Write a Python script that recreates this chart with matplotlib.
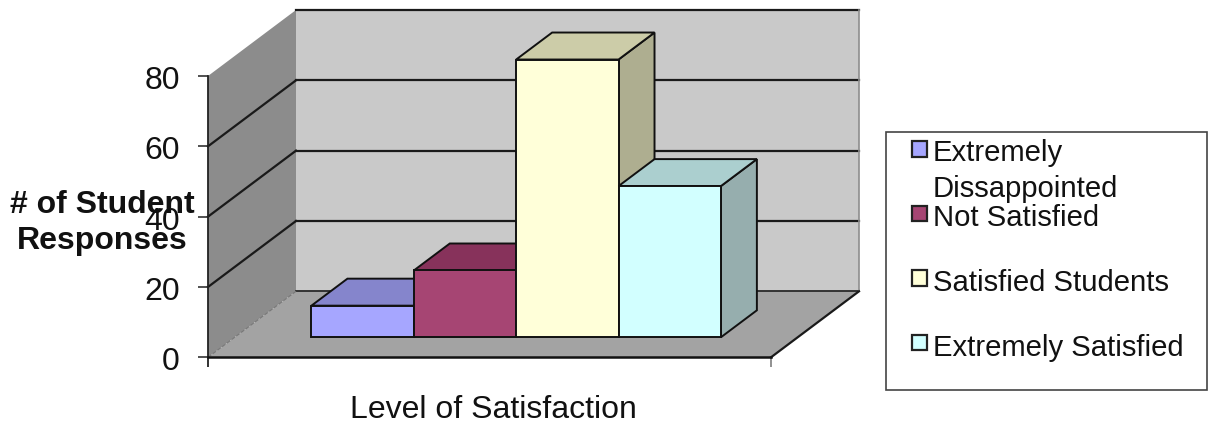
# -*- coding: utf-8 -*-
# old excel style 3D column chart, drawn as an oblique projection on a normal axes
import matplotlib
matplotlib.use('Agg')
import matplotlib.pyplot as plt
from matplotlib.patches import Rectangle
from matplotlib.transforms import ScaledTranslation

plt.rcParams['font.family'] = ['Liberation Sans', 'DejaVu Sans']

names = ['Extremely\nDissappointed', 'Not Satisfied', 'Satisfied Students', 'Extremely Satisfied']
values = [9, 19, 79, 43]
yticks = [0, 20, 40, 60, 80]

front_colors = ['#A6A6FF', '#A64573', '#FFFFD9', '#D2FFFF']
top_colors = ['#8585CC', '#87325B', '#CCCCA8', '#ABCFCF']
side_colors = ['#6C6CA6', '#6C2C4A', '#AEAE90', '#96AEAE']

W, H = 1208, 424
fig = plt.figure(figsize=(W / 100, H / 100), dpi=100)
ax = fig.add_axes([208 / W, (H - 357.3) / H, 563 / W, 281.3 / H])
ax.patch.set_alpha(0)
ax.set_xlim(0, 5.5)
ax.set_ylim(0, 80)

# one unit of depth on the page, in data units
dx = 88 / 563 * 5.5
dy = 66 / 281.3 * 80


def p(x, y, d=0.0):
    return x + d * dx, y + d * dy


def poly(points, color, edge='none', lw=0.0, z=1):
    xs = [a[0] for a in points]
    ys = [a[1] for a in points]
    ax.fill(xs, ys, facecolor=color, edgecolor=edge, linewidth=lw, clip_on=False, zorder=z,
            joinstyle='miter')


def line(a, b, color='#1a1a1a', lw=1.6, z=2, ls='-'):
    ax.plot([a[0], b[0]], [a[1], b[1]], color=color, lw=lw, ls=ls, clip_on=False, zorder=z)


xmax = 5.5
ymax = 80
# walls and floor
poly([p(0, 0), p(0, ymax), p(0, ymax, 1), p(0, 0, 1)], '#8C8C8C')
poly([p(0, 0, 1), p(0, ymax, 1), p(xmax, ymax, 1), p(xmax, 0, 1)], '#C9C9C9')
poly([p(0, 0), p(xmax, 0), p(xmax, 0, 1), p(0, 0, 1)], '#A3A3A3')

# gridlines run over the side wall and along the back wall
for t in yticks[1:-1]:
    line(p(0, t), p(0, t, 1))
    line(p(0, t, 1), p(xmax, t, 1))
line(p(0, ymax, 1), p(xmax, ymax, 1))
line(p(0, 0, 1), p(xmax, 0, 1), lw=1.2)
line(p(xmax, 0, 1), p(xmax, ymax, 1), color='#8E8E8E', lw=1.2)
line(p(0, 0), p(0, 0, 1), color='#777777', lw=0.8, ls='--')
line(p(xmax, 0), p(xmax, 0, 1))

# columns
gap = 0.75
d0, d1 = 0.303, 0.712
for i, v in enumerate(values):
    x0 = gap + i
    x1 = x0 + 1
    kw = dict(edge='#111111', lw=1.4, z=3 + i)
    poly([p(x1, 0, d0), p(x1, v, d0), p(x1, v, d1), p(x1, 0, d1)], side_colors[i], **kw)
    poly([p(x0, v, d0), p(x1, v, d0), p(x1, v, d1), p(x0, v, d1)], top_colors[i], **kw)
    poly([p(x0, 0, d0), p(x1, 0, d0), p(x1, v, d0), p(x0, v, d0)], front_colors[i], **kw)

for s in ['top', 'right']:
    ax.spines[s].set_visible(False)
ax.spines['left'].set_linewidth(1.3)
ax.spines['left'].set_color('#222222')
ax.spines['bottom'].set_linewidth(1.8)
ax.spines['bottom'].set_color('#111111')
ax.set_zorder(5)
ax.spines['left'].set_zorder(2)
ax.spines['bottom'].set_zorder(2.5)
ax.set_yticks(yticks)
ax.set_xticks([0, xmax])
ax.set_xticklabels([])
ax.tick_params(axis='y', length=7.2, width=1.1, color='#222222', pad=13, labelsize=23, labelcolor='#111111')
ax.tick_params(axis='x', length=7.2, width=1.3, color='#888888')
ax.get_xticklines()[0].set_markeredgecolor('#222222')
shift = ScaledTranslation(0, -1.5 / 100, fig.dpi_scale_trans)
for lab in ax.get_yticklabels():
    lab.set_transform(lab.get_transform() + shift)

ax.set_xlabel('Level of Satisfaction', fontsize=23, color='#111111')
ax.xaxis.set_label_coords(0.507, -0.188)
ax.xaxis.label.set_va('center')

# overlay in pixel coordinates for the axis title and the legend
ov = fig.add_axes([0, 0, 1, 1], zorder=10)
ov.set_xlim(0, W)
ov.set_ylim(H, 0)
ov.axis('off')
ov.patch.set_alpha(0)

ov.text(102, 223, '# of Student\nResponses', fontsize=23, fontweight='bold', color='#111111',
        ha='center', va='center', linespacing=1.3)

ov.add_patch(Rectangle((886, 132), 321, 258, facecolor='white', edgecolor='#444444', linewidth=1.2))
handle_y = [141, 205.5, 270, 334.5]
label_y = [161, 226, 291, 356]
for i, n in enumerate(names):
    ov.add_patch(Rectangle((911.5, handle_y[i]), 15.5, 15.5, facecolor=front_colors[i],
                           edgecolor='#222222', linewidth=1.6))
    parts = n.split('\n')
    ov.text(933, label_y[i], parts[0], fontsize=21.1, color='#111111', va='baseline')
    if len(parts) > 1:
        ov.text(933, 197, parts[1], fontsize=21.1, color='#111111', va='baseline')

fig.savefig('out.png', dpi=100)
